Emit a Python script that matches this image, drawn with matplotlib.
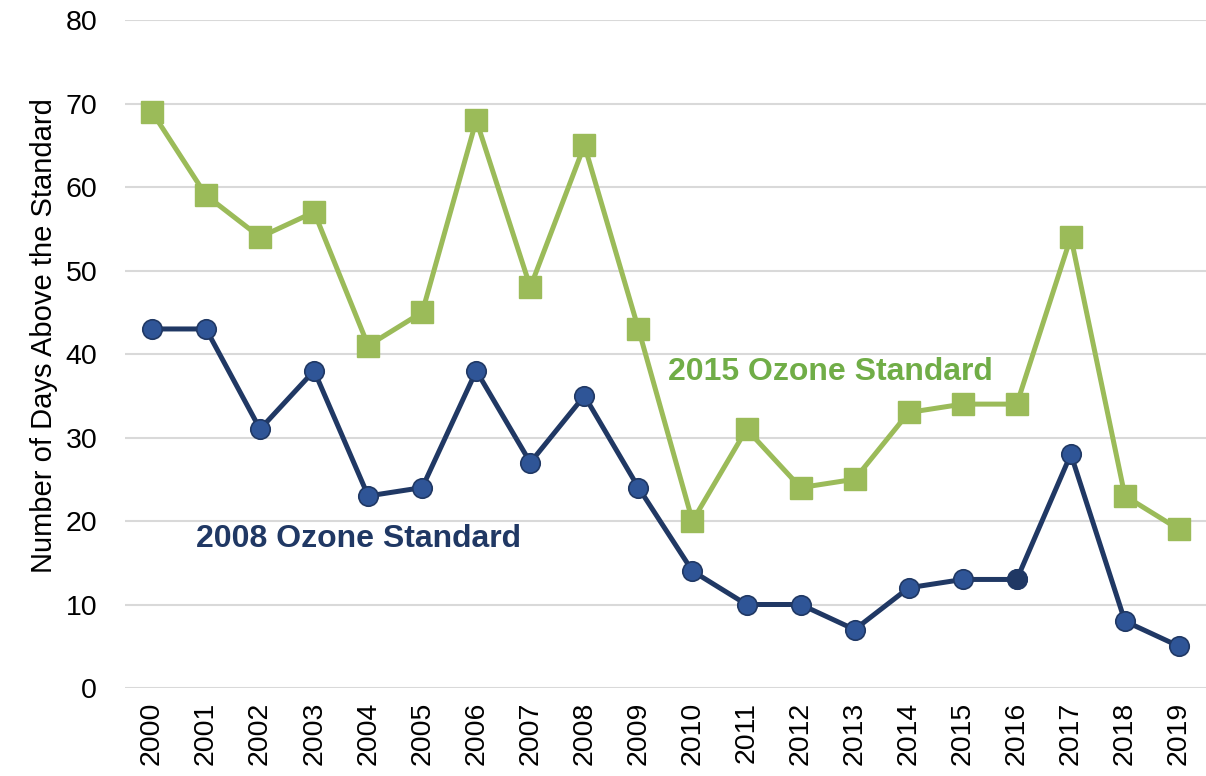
"""Days above the ozone standard, 2000-2019."""
import matplotlib

matplotlib.use("Agg")
import matplotlib.pyplot as plt
import numpy

YEARS = [str(y) for y in range(2000, 2020)]
DAYS_2015 = [69, 59, 54, 57, 41, 45, 68, 48, 65, 43,
             20, 31, 24, 25, 33, 34, 34, 54, 23, 19]
DAYS_2008 = [43, 43, 31, 38, 23, 24, 38, 27, 35, 24,
             14, 10, 10, 7, 12, 13, 13, 28, 8, 5]

GREEN = "#9BBB59"
GREEN_TEXT = "#70AD47"
NAVY = "#203864"
BLUE = "#2F5597"

if __name__ == "__main__":
    plt.rcParams["font.family"] = ["Liberation Sans", "DejaVu Sans"]

    fig = plt.figure(figsize=(12.06, 7.76), dpi=100)
    ax = fig.add_axes([0.1036, 0.1134, 0.8964, 0.8608])

    x = numpy.arange(len(YEARS))
    ax.plot(x, DAYS_2015, color=GREEN, lw=3.6, marker="s", ms=16,
            mfc=GREEN, mec=GREEN, zorder=3)
    ax.plot(x, DAYS_2008, color=NAVY, lw=3.6, marker="o", ms=14,
            mfc=BLUE, mec=NAVY, mew=1.2, zorder=3)
    # 2016 point drawn darker in the original
    ax.plot(x[16], DAYS_2008[16], marker="o", ms=14, mfc=NAVY, mec=NAVY,
            zorder=4)

    ax.text(12.55, 37.8, "2015 Ozone Standard", color=GREEN_TEXT,
            fontsize=23, fontweight="bold", ha="center", va="center")
    ax.text(3.83, 17.8, "2008 Ozone Standard", color=NAVY,
            fontsize=23, fontweight="bold", ha="center", va="center")

    ax.set_xlim(-0.5, len(YEARS) - 0.5)
    ax.set_ylim(0, 80)
    ax.set_yticks(numpy.arange(0, 81, 10))
    ax.set_xticks(x)
    ax.set_xticklabels(YEARS, rotation=90)
    ax.tick_params(axis="both", length=0, labelsize=20.5)
    ax.tick_params(axis="x", pad=10)
    ax.tick_params(axis="y", pad=20)
    ax.grid(axis="y", color="#D9D9D9", lw=1.5)
    ax.set_axisbelow(True)
    for side in ["top", "right", "left", "bottom"]:
        ax.spines[side].set_visible(False)

    ax.set_ylabel("Number of Days Above the Standard", fontsize=21,
                  labelpad=5, y=0.528)

    plt.savefig("out.png", dpi=100)
